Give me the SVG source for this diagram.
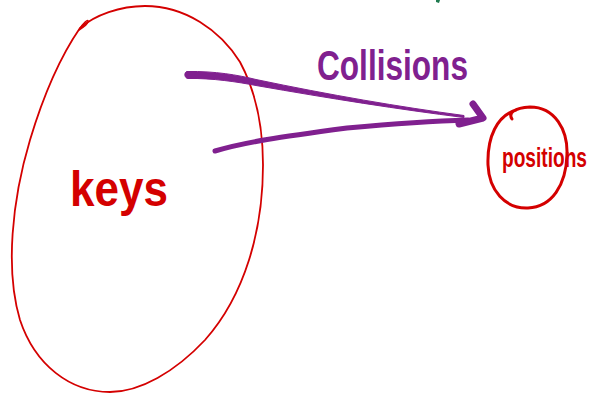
<svg xmlns="http://www.w3.org/2000/svg" width="594" height="394" viewBox="0 0 594 394">
  <defs>
    <style>
      .ink-red { fill: none; stroke: #d40000; stroke-linecap: round; stroke-linejoin: round; }
      .ink-purple { fill: none; stroke: #80208f; stroke-linecap: round; stroke-linejoin: round; }
      .hand { font-family: "Liberation Sans", "DejaVu Sans", sans-serif; font-weight: bold; }
      .red-text { fill: #d40000; }
      .purple-text { fill: #80208f; }
    </style>
  </defs>
  <rect width="594" height="394" fill="#ffffff"/>

  <!-- small green pen mark at the top edge -->
  <path d="M436,0 L440,0 L439,3 L436,2 Z" fill="#1f7a4f"/>

  <!-- keys: large hand-drawn loop -->
  <g id="keys">
    <path class="ink-red" stroke-width="1.8" d="M80,28 C95,15 120,6 145,6 C185,6 220,30 240,62 C255,90 263,125 263,165 C263,230 245,295 205,340 C175,372 140,392 110,392 C70,392 35,365 20,320 C5,270 12,200 30,140 C42,100 58,60 80,28 Z"/>
    <path class="ink-red" stroke-width="1.5" d="M79,30 C83,23 89,18 88,22 C87,25 82,28 79,30"/>
    <text class="hand red-text" x="70" y="206" font-size="50" textLength="98" lengthAdjust="spacingAndGlyphs">keys</text>
  </g>

  <!-- positions: small hand-drawn circle -->
  <g id="positions">
    <path class="ink-red" stroke-width="3" d="M512,119 C508,113 514,108 530,107 C555,107 568,130 567,155 C566,185 552,207 528,208 C505,209 489,190 488,165 C487,137 497,116 516,110"/>
    <text class="hand red-text" x="502" y="167" font-size="27" textLength="85" lengthAdjust="spacingAndGlyphs">positions</text>
  </g>

  <!-- connectors: two strokes meeting at one arrowhead -->
  <g id="connectors">
    <path fill="#80208f" stroke="#80208f" stroke-width="1" stroke-linejoin="round" d="M187,71.5 C215,71 238,75 256,79.5 C330,95 400,107 464,115.5 L464,117.5 C400,109.5 330,98.5 256,85.5 C238,82 212,78 188,78.5 C184,78 184,72 187,71.5 Z"/>
    <path class="ink-purple" stroke-width="5" d="M215,151 C245,142 280,137 347,128 C390,124 430,121 468,120"/>
    <polyline class="ink-purple" stroke-width="7" points="473,104 483,118 459,124"/>
    <text class="hand purple-text" x="317" y="80" font-size="42" textLength="151" lengthAdjust="spacingAndGlyphs">Collisions</text>
  </g>
</svg>
